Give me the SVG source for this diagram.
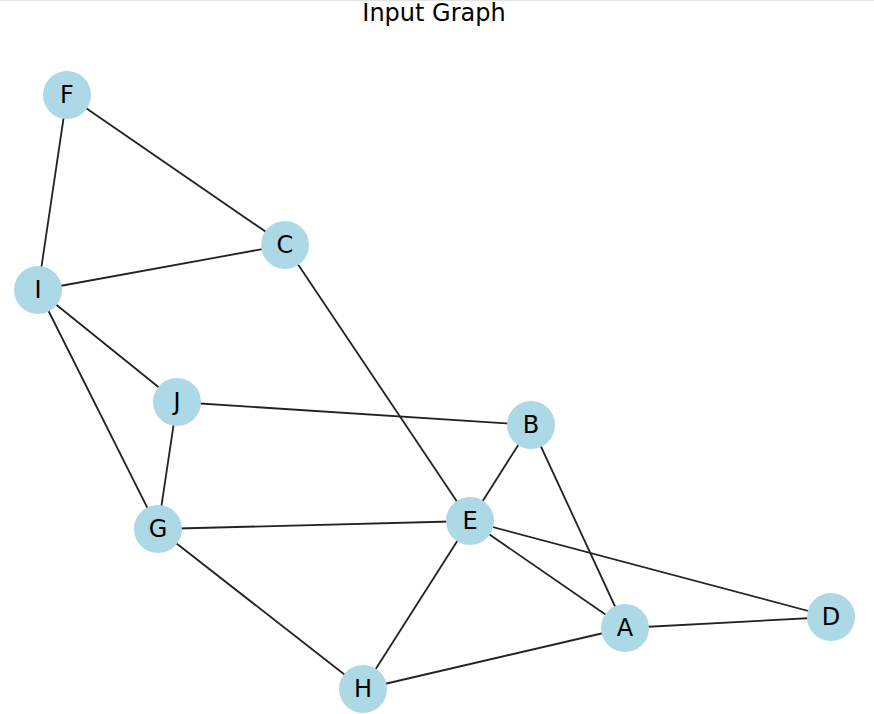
<svg xmlns="http://www.w3.org/2000/svg" width="874" height="714" viewBox="0 0 874 714">
<style>
.edge{stroke:#222;stroke-width:1.8;fill:none}
.node circle{fill:#ADD8E6}
.node text{font-family:"DejaVu Sans",sans-serif;font-size:24px;fill:#000;text-anchor:middle;dominant-baseline:central}
.title{font-family:"DejaVu Sans",sans-serif;font-size:24px;fill:#000;text-anchor:middle}
</style>
<rect width="874" height="714" fill="#fff"/>
<line x1="0" y1="0.5" x2="874" y2="0.5" stroke="#e4e4e4" stroke-width="1"/>
<text class="title" x="434" y="21">Input Graph</text>
<g id="edges">
<line class="edge" x1="67" y1="95" x2="285" y2="245"/>
<line class="edge" x1="67" y1="95" x2="38" y2="290"/>
<line class="edge" x1="38" y1="290" x2="285" y2="245"/>
<line class="edge" x1="38" y1="290" x2="177" y2="402"/>
<line class="edge" x1="38" y1="290" x2="158" y2="529"/>
<line class="edge" x1="177" y1="402" x2="158" y2="529"/>
<line class="edge" x1="177" y1="402" x2="531" y2="425"/>
<line class="edge" x1="285" y1="245" x2="470" y2="521"/>
<line class="edge" x1="531" y1="425" x2="470" y2="521"/>
<line class="edge" x1="531" y1="425" x2="625" y2="628"/>
<line class="edge" x1="158" y1="529" x2="470" y2="521"/>
<line class="edge" x1="158" y1="529" x2="363" y2="689"/>
<line class="edge" x1="470" y1="521" x2="363" y2="689"/>
<line class="edge" x1="470" y1="521" x2="625" y2="628"/>
<line class="edge" x1="470" y1="521" x2="831" y2="617"/>
<line class="edge" x1="625" y1="628" x2="831" y2="617"/>
<line class="edge" x1="363" y1="689" x2="625" y2="628"/>
</g>
<g id="node-F" class="node"><circle cx="67" cy="95" r="24"/><text x="67" y="95">F</text></g>
<g id="node-C" class="node"><circle cx="285" cy="245" r="24"/><text x="285" y="245">C</text></g>
<g id="node-I" class="node"><circle cx="38" cy="290" r="24"/><text x="38" y="290">I</text></g>
<g id="node-J" class="node"><circle cx="177" cy="402" r="24"/><text x="177" y="402">J</text></g>
<g id="node-B" class="node"><circle cx="531" cy="425" r="24"/><text x="531" y="425">B</text></g>
<g id="node-G" class="node"><circle cx="158" cy="529" r="24"/><text x="158" y="529">G</text></g>
<g id="node-E" class="node"><circle cx="470" cy="521" r="24"/><text x="470" y="521">E</text></g>
<g id="node-A" class="node"><circle cx="625" cy="628" r="24"/><text x="625" y="628">A</text></g>
<g id="node-D" class="node"><circle cx="831" cy="617" r="24"/><text x="831" y="617">D</text></g>
<g id="node-H" class="node"><circle cx="363" cy="689" r="24"/><text x="363" y="689">H</text></g>
</svg>
